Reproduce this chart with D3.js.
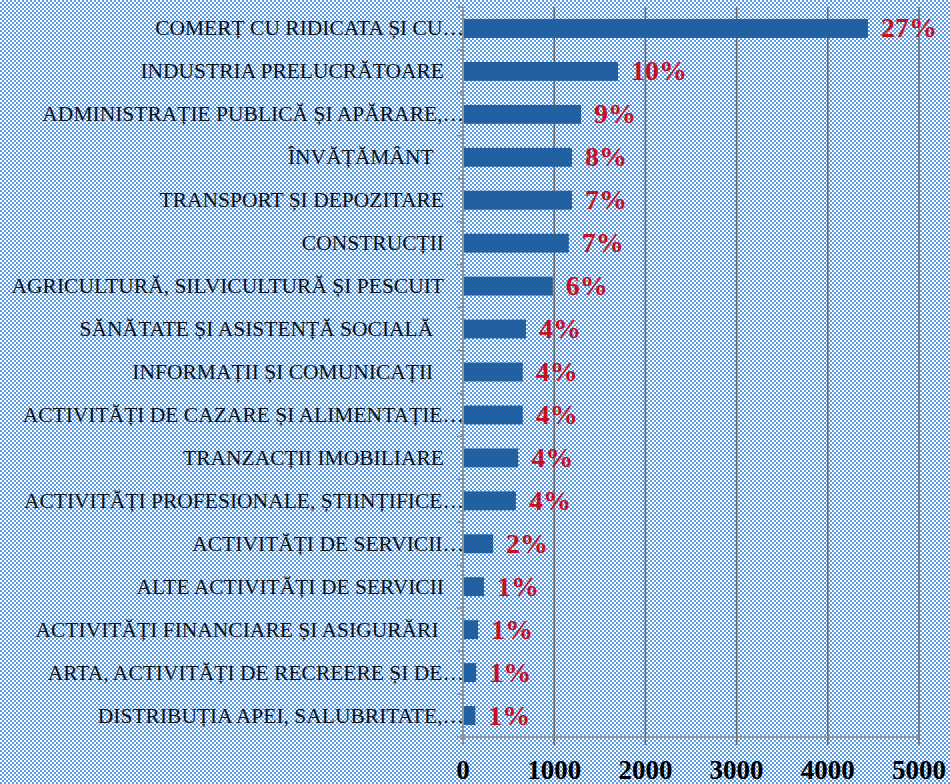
<!DOCTYPE html>
<html>
<head>
<meta charset="utf-8">
<script src="https://cdn.jsdelivr.net/npm/d3@7"></script>
<style>
  body { margin: 0; padding: 0; }
  #chart {
    width: 950px; height: 784px;
    background-color: #ffffff;
    background-image: repeating-conic-gradient(#5a9ae2 0% 25%, #ffffff 0% 50%);
    background-size: 4px 4px;
  }
  svg { display: block; }
  .cat { font-family: "Liberation Serif", "Times New Roman", serif; font-size: 21.5px; fill: #111; white-space: pre; }
</style>
</head>
<body>
<div id="chart"></div>
<script>
        // Chart data
        const categories = [
            "COMERȚ CU RIDICATA ȘI CU…",
            "INDUSTRIA PRELUCRĂTOARE",
            "ADMINISTRAȚIE PUBLICĂ ȘI APĂRARE,…",
            "ÎNVĂȚĂMÂNT  ",
            "TRANSPORT ȘI DEPOZITARE",
            "CONSTRUCȚII",
            "AGRICULTURĂ, SILVICULTURĂ ȘI PESCUIT",
            "SĂNĂTATE ȘI ASISTENȚĂ SOCIALĂ  ",
            "INFORMAȚII ȘI COMUNICAȚII  ",
            "ACTIVITĂȚI DE CAZARE ȘI ALIMENTAȚIE…",
            "TRANZACȚII IMOBILIARE",
            "ACTIVITĂȚI PROFESIONALE, ȘTIINȚIFICE…",
            "ACTIVITĂȚI DE SERVICII…",
            "ALTE ACTIVITĂȚI DE SERVICII",
            "ACTIVITĂȚI FINANCIARE ȘI ASIGURĂRI ",
            "ARTA, ACTIVITĂȚI DE RECREERE ȘI DE…",
            "DISTRIBUȚIA APEI, SALUBRITATE,…"
        ];
        const values = [4440, 1700, 1295, 1195, 1195, 1160, 985, 690, 655, 655, 605, 580, 330, 230, 165, 145, 135];
        const percentLabels = ["27%", "10%", "9%", "8%", "7%", "7%", "6%", "4%", "4%", "4%", "4%", "4%", "2%", "1%", "1%", "1%", "1%"];
        const xTicks = [0, 1000, 2000, 3000, 4000, 5000];

        const width = 950, height = 784;
        const plot = {left: 463, right: 919, top: 7, bottom: 737};

        const svg = d3.select("#chart")
            .append("svg")
            .attr("width", width)
            .attr("height", height);

        // Scales
        const xScale = d3.scaleLinear().domain([0, 5000]).range([plot.left, plot.right]);
        const yScale = d3.scaleBand().domain(categories).range([plot.top, plot.bottom]).paddingInner(0.56).paddingOuter(0.28);
        const yStep = yScale.step();

        // Vertical gridlines (extend below axis as tick marks)
        svg.append("g")
            .selectAll("line")
            .data(xTicks.slice(1))
            .enter()
            .append("line")
            .attr("x1", d => xScale(d)).attr("x2", d => xScale(d))
            .attr("y1", plot.top).attr("y2", plot.bottom + 8)
            .attr("stroke", "#6a6a6a")
            .attr("stroke-width", 1.6);

        // Bottom axis line
        svg.append("line")
            .attr("x1", plot.left).attr("x2", plot.right)
            .attr("y1", plot.bottom).attr("y2", plot.bottom)
            .attr("stroke", "#8c8c8c").attr("stroke-width", 1.6);

        // Left axis line with category ticks
        svg.append("line")
            .attr("x1", plot.left).attr("x2", plot.left)
            .attr("y1", plot.top).attr("y2", plot.bottom + 8)
            .attr("stroke", "#8c8c8c").attr("stroke-width", 1.8);

        svg.append("g")
            .selectAll("line")
            .data(d3.range(categories.length + 1))
            .enter()
            .append("line")
            .attr("x1", plot.left - 6).attr("x2", plot.left)
            .attr("y1", i => plot.top + i * yStep).attr("y2", i => plot.top + i * yStep)
            .attr("stroke", "#8c8c8c").attr("stroke-width", 1.4);

        // X tick labels
        svg.append("g")
            .selectAll("text")
            .data(xTicks)
            .enter()
            .append("text")
            .attr("x", d => xScale(d))
            .attr("y", 779)
            .attr("text-anchor", "middle")
            .style("font-family", "'Liberation Serif', serif")
            .style("font-weight", "bold")
            .style("font-size", "27px")
            .style("fill", "#000")
            .text(d => d);

        // Bars
        svg.append("g")
            .selectAll("rect")
            .data(values)
            .enter()
            .append("rect")
            .attr("x", xScale(0) + 1)
            .attr("y", (d, i) => yScale(categories[i]))
            .attr("width", d => xScale(d) - xScale(0) - 1)
            .attr("height", yScale.bandwidth())
            .attr("fill", "#2161a2");

        // Percentage labels
        svg.append("g")
            .selectAll("text")
            .data(values)
            .enter()
            .append("text")
            .attr("x", d => xScale(d) + 13)
            .attr("y", (d, i) => yScale(categories[i]) + yScale.bandwidth() / 2 + 9)
            .style("font-family", "'Liberation Serif', serif")
            .style("font-weight", "bold")
            .style("font-size", "28px")
            .style("fill", "#c8101a")
            .text((d, i) => percentLabels[i]);

        // Category labels
        svg.append("g")
            .selectAll("text")
            .data(categories)
            .enter()
            .append("text")
            .attr("class", "cat")
            .attr("x", d => d.endsWith("…") ? plot.left + 1 : plot.left - 19)
            .attr("y", d => yScale(d) + yScale.bandwidth() / 2 + 7)
            .attr("text-anchor", "end")
            .text(d => d);
</script>
</body>
</html>
